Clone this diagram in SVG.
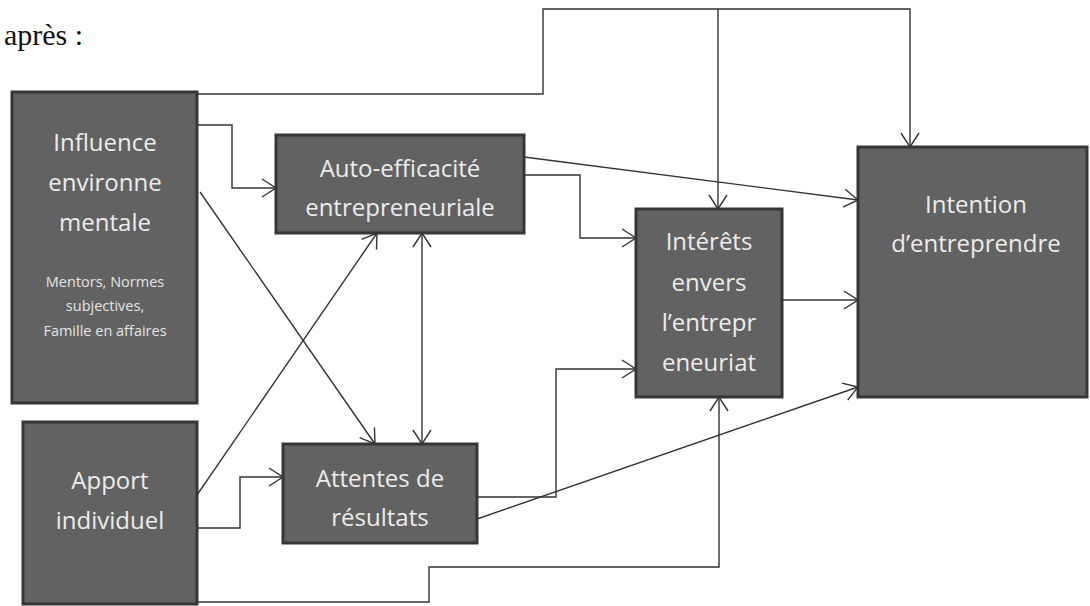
<svg xmlns="http://www.w3.org/2000/svg" width="1090" height="606" viewBox="0 0 1090 606">
  <style>
    .box { fill: #626262; stroke: #363636; stroke-width: 3; }
    .lbl { font-family: "Open Sans", "Liberation Sans", sans-serif; font-size: 24px; fill: #ececec; text-anchor: middle; }
    .sub { font-family: "Open Sans", "Liberation Sans", sans-serif; font-size: 14.5px; fill: #e4e4e4; text-anchor: middle; }
    .wire { fill: none; stroke: #333333; stroke-width: 1.4; }
    .arr { marker-end: url(#head); }
    .cap { font-family: "Liberation Serif", "Times New Roman", serif; font-size: 30px; fill: #111111; }
  </style>
  <defs>
    <marker id="head" markerUnits="userSpaceOnUse" markerWidth="18" markerHeight="22" refX="15" refY="10" orient="auto-start-reverse">
      <path d="M1,1 L15,10 L1,19" fill="none" stroke="#333333" stroke-width="1.4"/>
    </marker>
  </defs>

  <rect width="1090" height="606" fill="#ffffff"/>

  <text class="cap" x="4" y="45">après :</text>

  <g id="connectors">
    <!-- environment influence over the top to interests and intention -->
    <path class="wire arr" d="M197,94 H543 V9 H910 V147"/>
    <path class="wire arr" d="M718,9 V209"/>
    <!-- environment influence to self-efficacy -->
    <path class="wire arr" d="M197,125 H232 V188 H276"/>
    <!-- environment influence to outcome expectations -->
    <path class="wire arr" d="M200,192 L375,444"/>
    <!-- personal input to self-efficacy -->
    <path class="wire arr" d="M197,495 L377,233"/>
    <!-- self-efficacy and outcome expectations, both ways -->
    <path class="wire arr" d="M422,233 V444" marker-start="url(#head)"/>
    <!-- personal input to outcome expectations -->
    <path class="wire arr" d="M197,528 H240 V477 H283"/>
    <!-- self-efficacy to intention -->
    <path class="wire arr" d="M524,157 L858,200"/>
    <!-- self-efficacy to interests -->
    <path class="wire arr" d="M524,175 H580 V238 H636"/>
    <!-- interests to intention -->
    <path class="wire arr" d="M782,300 H858"/>
    <!-- outcome expectations to interests -->
    <path class="wire arr" d="M477,497 H556 V369 H636"/>
    <!-- outcome expectations to intention -->
    <path class="wire arr" d="M477,519 L858,387"/>
    <!-- personal input along the bottom to interests -->
    <path class="wire arr" d="M197,602 H429 V567 H719 V397"/>
  </g>

  <g id="influence">
    <rect class="box" x="12" y="92" width="185" height="311"/>
    <text class="lbl" x="105" y="151">Influence</text>
    <text class="lbl" x="105" y="191">environne</text>
    <text class="lbl" x="105" y="231">mentale</text>
    <text class="sub" x="105" y="287">Mentors, Normes</text>
    <text class="sub" x="105" y="311">subjectives,</text>
    <text class="sub" x="105" y="336">Famille en affaires</text>
  </g>

  <g id="apport">
    <rect class="box" x="23" y="422" width="174" height="182"/>
    <text class="lbl" x="110" y="489">Apport</text>
    <text class="lbl" x="110" y="529">individuel</text>
  </g>

  <g id="auto-efficacite">
    <rect class="box" x="276" y="135" width="248" height="98"/>
    <text class="lbl" x="400" y="177">Auto-efficacité</text>
    <text class="lbl" x="400" y="216">entrepreneuriale</text>
  </g>

  <g id="attentes">
    <rect class="box" x="283" y="444" width="194" height="99"/>
    <text class="lbl" x="380" y="487">Attentes de</text>
    <text class="lbl" x="380" y="526">résultats</text>
  </g>

  <g id="interets">
    <rect class="box" x="636" y="209" width="146" height="188"/>
    <text class="lbl" x="709" y="250">Intérêts</text>
    <text class="lbl" x="709" y="291">envers</text>
    <text class="lbl" x="709" y="331">l’entrepr</text>
    <text class="lbl" x="709" y="371">eneuriat</text>
  </g>

  <g id="intention">
    <rect class="box" x="858" y="147" width="229" height="250"/>
    <text class="lbl" x="976" y="213">Intention</text>
    <text class="lbl" x="976" y="252">d’entreprendre</text>
  </g>
</svg>
